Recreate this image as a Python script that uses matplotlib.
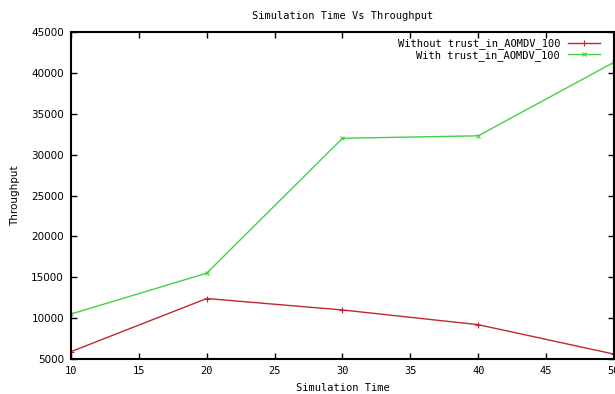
import matplotlib
matplotlib.use("Agg")
import matplotlib.pyplot as plt

sim_time = [10, 20, 30, 40, 50]
without_trust = [5900, 12400, 11000, 9200, 5600]
with_trust = [10500, 15500, 32000, 32300, 41300]
x_ticks = [10, 15, 20, 25, 30, 35, 40, 45, 50]
y_ticks = [5000, 10000, 15000, 20000, 25000, 30000, 35000, 40000, 45000]

plt.rcParams['font.family'] = ['DejaVu Sans Mono']
fig = plt.figure(figsize=(6.15, 3.94), dpi=100)
ax = fig.add_axes([0.1154, 0.0888, 0.8830, 0.8300])

ax.plot(sim_time, without_trust, color='#c0282d', lw=1, marker='+', ms=5, mew=0.8,
        label='Without trust_in_AOMDV_100')
ax.plot(sim_time, with_trust, color='#46d046', lw=1, marker='x', ms=3.5, mew=0.8,
        label='With trust_in_AOMDV_100')

ax.set_xlim(10, 50)
ax.set_ylim(5000, 45000)
ax.set_xticks(x_ticks)
ax.set_yticks(y_ticks)
ax.set_xticklabels([str(v) for v in x_ticks], fontsize=7.5)
ax.set_yticklabels([str(v) for v in y_ticks], fontsize=7.5, family='DejaVu Sans')
ax.tick_params(direction='in', top=True, right=True, length=4, width=1, pad=5)
for s in ax.spines.values():
    s.set_linewidth(1.5)

ax.set_title('Simulation Time Vs Throughput', fontsize=7.5, pad=9)
ax.set_xlabel('Simulation Time', fontsize=7.5, labelpad=5)
ax.set_ylabel('Throughput', fontsize=7.5, family='DejaVu Sans', labelpad=8)

leg = ax.legend(loc='upper right', frameon=False, markerfirst=False, fontsize=7.5,
                handlelength=3, borderaxespad=0.2, labelspacing=0.05,
                bbox_to_anchor=(0.985, 1.0))
for t in leg.get_texts():
    t.set_ha('right')

fig.savefig('out.png', dpi=100)
